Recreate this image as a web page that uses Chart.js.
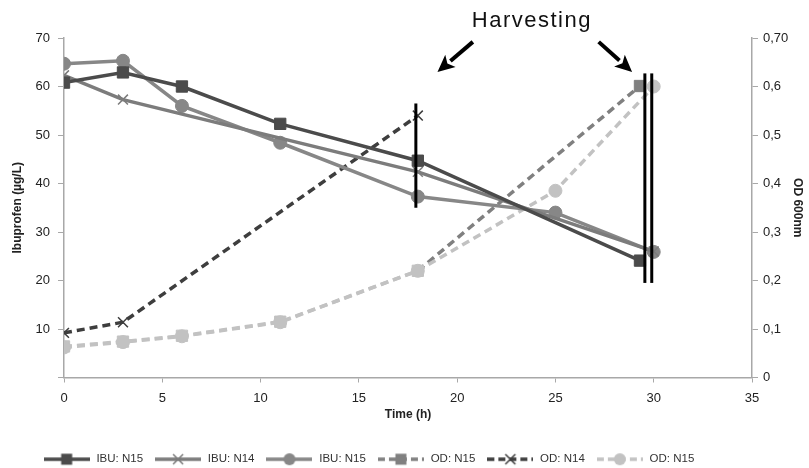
<!DOCTYPE html>
<html>
<head>
<meta charset="utf-8">
<script src="https://cdn.jsdelivr.net/npm/chart.js@4.4.1/dist/chart.umd.min.js"></script>
<style>
  html, body { margin: 0; padding: 0; background: #fff; }
  #wrap { width: 809px; height: 468px; }
</style>
</head>
<body>
<div id="wrap"><canvas id="chart"></canvas></div>
<script>
// time points (h)
const tIbuN15 = [0, 3, 6, 11, 18, 29.3];
const tIbuN14 = [0, 3, 18, 30];
const tIbuN15b = [0, 3, 6, 11, 18, 25, 30];
const tOdN15 = [0, 3, 6, 11, 18, 29.3];
const tOdN14 = [0, 3, 18];
const tOdN15b = [0, 3, 6, 11, 18, 25, 30];

// ibuprofen (µg/L)
const ibuN15 = [60.8, 62.9, 60.0, 52.3, 44.7, 24.1];
const ibuN14 = [62.3, 57.3, 42.4, 26.0];
const ibuN15b = [64.7, 65.3, 56.0, 48.4, 37.3, 34.0, 25.9];

// optical density
const odN15 = [0.064, 0.074, 0.086, 0.115, 0.22, 0.601];
const odN14 = [0.092, 0.114, 0.54];
const odN15b = [0.062, 0.073, 0.085, 0.114, 0.22, 0.385, 0.6];

const leftTicks = [0, 10, 20, 30, 40, 50, 60, 70];
const rightTicks = ['0', '0,1', '0,2', '0,3', '0,4', '0,5', '0,6', '0,70'];

// harvest marks, in data units (x: time, y: ibuprofen axis)
const harvestBars = [
  { x: 17.9, from: 35.0, to: 56.5 },
  { x: 29.55, from: 19.5, to: 62.7 },
  { x: 29.9, from: 19.5, to: 62.7 }
];

const FONT = "'Liberation Sans', Arial, Helvetica, sans-serif";
const light = '#c2c2c2';

const pts = (xs, ys) => xs.map((x, i) => ({ x: x, y: ys[i] }));

const series = [
  { label: 'IBU: N15', data: pts(tIbuN15, ibuN15), color: '#4b4b4b', style: 'rect', radius: 8, dash: [], axis: 'y', pbw: 1 },
  { label: 'IBU: N14', data: pts(tIbuN14, ibuN14), color: '#7c7c7c', style: 'crossRot', radius: 7, dash: [], axis: 'y', pbw: 1.5 },
  { label: 'IBU: N15', data: pts(tIbuN15b, ibuN15b), color: '#878787', style: 'circle', radius: 6.5, dash: [], axis: 'y', pbw: 1 },
  { label: 'OD: N15', data: pts(tOdN15, odN15), color: '#808080', style: 'rect', radius: 8, dash: [8, 5], axis: 'y1', pbw: 1 },
  { label: 'OD: N14', data: pts(tOdN14, odN14), color: '#3e3e3e', style: 'crossRot', radius: 7, dash: [8, 5], axis: 'y1', pbw: 1.5 },
  { label: 'OD: N15', data: pts(tOdN15b, odN15b), color: light, style: 'circle', radius: 6.5, dash: [8, 5], axis: 'y1', pbw: 1 }
];

const datasets = series.map((s, i) => {
  const ds = {
    label: s.label,
    data: s.data,
    yAxisID: s.axis,
    borderColor: s.color,
    backgroundColor: s.color,
    borderWidth: 3.5,
    borderDash: s.dash,
    pointStyle: s.style,
    pointRadius: s.radius,
    pointHoverRadius: s.radius,
    pointBorderWidth: s.pbw,
    pointBackgroundColor: s.color,
    pointBorderColor: s.color,
    tension: 0,
    order: i === 3 ? 6 : i
  };
  if (i === 3) {
    // early points sit under the light series and look light
    const c = s.data.map((p, k) => (k < s.data.length - 1 ? light : s.color));
    ds.pointBackgroundColor = c;
    ds.pointBorderColor = c;
    ds.segment = { borderColor: ctx => (ctx.p1DataIndex < s.data.length - 1 ? light : s.color) };
  }
  return ds;
});

// little line+marker pictures for the legend
const makeIcon = (s) => {
  const c = document.createElement('canvas');
  c.width = 46; c.height = 16;
  const g = c.getContext('2d');
  g.strokeStyle = s.color;
  g.fillStyle = s.color;
  g.lineWidth = 3.5;
  g.setLineDash(s.dash.length ? [7, 4] : []);
  g.beginPath(); g.moveTo(0, 8); g.lineTo(46, 8); g.stroke();
  g.setLineDash([]);
  if (s.style === 'rect') {
    g.fillRect(17.5, 2.5, 11, 11);
  } else if (s.style === 'circle') {
    g.beginPath(); g.arc(23, 8, 6, 0, Math.PI * 2); g.fill();
  } else {
    g.lineWidth = 1.5;
    g.beginPath();
    g.moveTo(18, 3); g.lineTo(28, 13);
    g.moveTo(28, 3); g.lineTo(18, 13);
    g.stroke();
  }
  return c;
};
const icons = series.map(makeIcon);

const harvestPlugin = {
  id: 'harvest',
  afterLayout(chart) {
    // nudge the legend to where it sits in the figure
    const lg = chart.legend;
    lg.left -= 38; lg.right -= 38;
    lg.top += 7; lg.bottom += 7;
  },
  afterDatasetsDraw(chart) {
    const { ctx, scales: { x, y } } = chart;
    ctx.save();
    ctx.strokeStyle = '#000';
    ctx.lineWidth = 3;
    harvestBars.forEach(b => {
      const px = x.getPixelForValue(b.x);
      ctx.beginPath();
      ctx.moveTo(px, y.getPixelForValue(b.from));
      ctx.lineTo(px, y.getPixelForValue(b.to));
      ctx.stroke();
    });

    const arrow = (x0, y0, x1, y1) => {
      const ax0 = x.getPixelForValue(x0), ay0 = y.getPixelForValue(y0);
      const ax1 = x.getPixelForValue(x1), ay1 = y.getPixelForValue(y1);
      const ang = Math.atan2(ay1 - ay0, ax1 - ax0);
      const len = 17, wid = 8;
      const bx = ax1 - len * Math.cos(ang), by = ay1 - len * Math.sin(ang);
      ctx.lineWidth = 4;
      ctx.beginPath(); ctx.moveTo(ax0, ay0); ctx.lineTo(bx, by); ctx.stroke();
      ctx.beginPath();
      ctx.moveTo(ax1, ay1);
      ctx.lineTo(bx + wid * Math.sin(ang), by - wid * Math.cos(ang));
      ctx.lineTo(bx + 4 * Math.cos(ang), by + 4 * Math.sin(ang));
      ctx.lineTo(bx - wid * Math.sin(ang), by + wid * Math.cos(ang));
      ctx.closePath();
      ctx.fillStyle = '#000';
      ctx.fill();
    };
    arrow(20.8, 69.2, 19.0, 63.0);
    arrow(27.2, 69.2, 28.9, 63.0);

    ctx.fillStyle = '#111';
    ctx.font = '22px ' + FONT;
    ctx.letterSpacing = '1.5px';
    ctx.textAlign = 'center';
    ctx.textBaseline = 'alphabetic';
    ctx.fillText('Harvesting', x.getPixelForValue(23.8), y.getPixelForValue(72.2));
    ctx.restore();
  }
};

Chart.defaults.font.family = FONT;
Chart.defaults.color = '#222';

new Chart(document.getElementById('chart'), {
  type: 'line',
  data: { datasets: datasets },
  plugins: [harvestPlugin],
  options: {
    responsive: true,
    maintainAspectRatio: false,
    animation: false,
    layout: { padding: { top: 38, left: 4, right: 0, bottom: 0 } },
    plugins: {
      tooltip: { enabled: false },
      legend: {
        position: 'bottom',
        labels: {
          usePointStyle: true,
          pointStyleWidth: 48,
          padding: 11,
          color: '#333',
          font: { size: 11.5 },
          generateLabels: (chart) => {
            const items = Chart.defaults.plugins.legend.labels.generateLabels(chart);
            items.sort((a, b) => a.datasetIndex - b.datasetIndex);
            return items.map(it => Object.assign(it, { pointStyle: icons[it.datasetIndex], lineWidth: 0 }));
          }
        }
      }
    },
    scales: {
      x: {
        type: 'linear',
        min: 0,
        max: 35,
        ticks: { stepSize: 5, padding: 8, font: { size: 13 }, color: '#222' },
        grid: { drawOnChartArea: false, drawTicks: true, tickLength: 5, color: '#a8a8a8' },
        border: { color: '#a8a8a8', width: 1.5 },
        title: { display: true, text: 'Time (h)', font: { size: 12, weight: 'bold' }, color: '#222', padding: { top: 2, bottom: 14 } },
        afterFit: (scale) => { scale.height = 58; }
      },
      y: {
        position: 'left',
        min: 0,
        max: 70,
        afterBuildTicks: (scale) => { scale.ticks = leftTicks.map(v => ({ value: v })); },
        ticks: {
          padding: 8,
          font: { size: 13 },
          color: '#222',
          callback: (v) => (v === 0 ? '' : String(v))
        },
        grid: { drawOnChartArea: false, drawTicks: true, tickLength: 6, color: '#a8a8a8' },
        border: { color: '#a8a8a8', width: 1.5 },
        title: { display: true, text: 'Ibuprofen (µg/L)', font: { size: 12, weight: 'bold' }, color: '#222', padding: { top: 6, bottom: 0 } },
        afterFit: (scale) => { scale.width = 60; }
      },
      y1: {
        position: 'right',
        min: 0,
        max: 0.7,
        afterBuildTicks: (scale) => { scale.ticks = rightTicks.map((t, i) => ({ value: i / 10 })); },
        ticks: {
          padding: 5,
          font: { size: 13 },
          color: '#222',
          callback: (v, i) => rightTicks[i]
        },
        grid: { drawOnChartArea: false, drawTicks: true, tickLength: 6, color: '#a8a8a8' },
        border: { color: '#a8a8a8', width: 1.5 },
        title: { display: true, text: 'OD 600nm', font: { size: 12, weight: 'bold' }, color: '#222', padding: { top: 4, bottom: 0 } },
        afterFit: (scale) => { scale.width = 57; }
      }
    }
  }
});
</script>
</body>
</html>
